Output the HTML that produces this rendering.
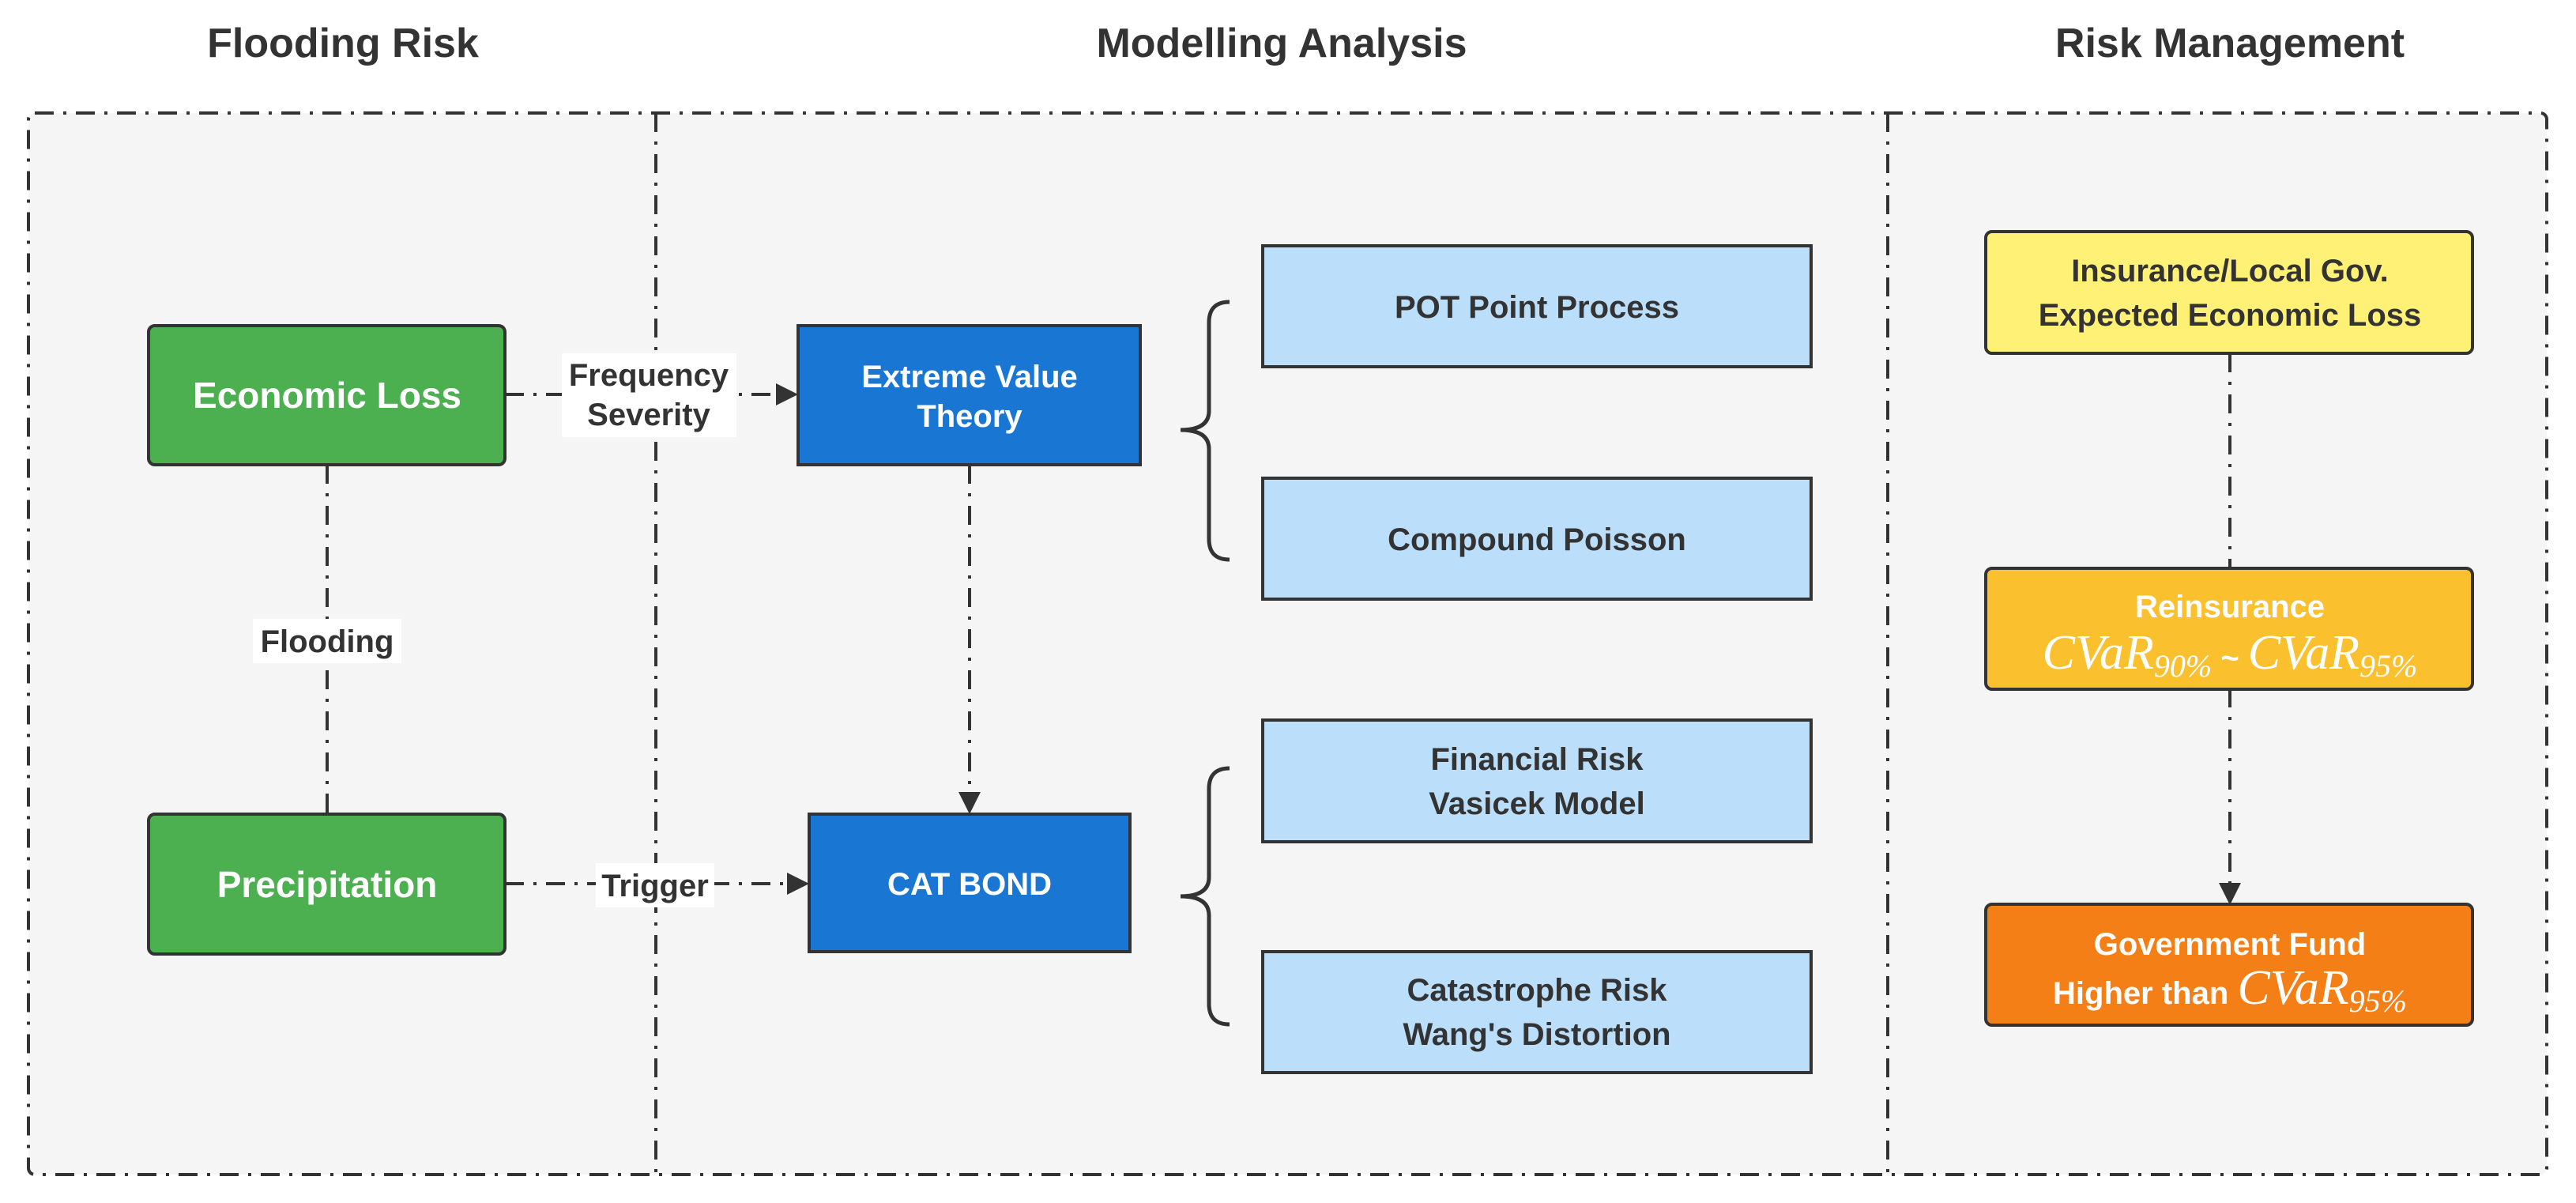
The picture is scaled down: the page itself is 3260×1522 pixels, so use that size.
<!DOCTYPE html>
<html><head><meta charset="utf-8"><style>
html,body{margin:0;padding:0;background:#fff;}
svg{display:block;}
text{font-family:"Liberation Sans",sans-serif;font-weight:bold;}
.m{font-family:"Liberation Serif",serif;font-style:italic;font-weight:normal;}
</style></head><body>
<svg width="3260" height="1522" viewBox="0 0 3260 1522" xmlns="http://www.w3.org/2000/svg">
<rect width="3260" height="1522" fill="#fff"/>
<rect x="36" y="143" width="3187" height="1343" rx="8" fill="#f5f5f5" stroke="#333" stroke-width="4" stroke-dasharray="24 12 4 12"/>
<line x1="830" y1="143" x2="830" y2="1486" stroke="#333" stroke-width="4" stroke-dasharray="24 12 4 12"/>
<line x1="2389" y1="143" x2="2389" y2="1486" stroke="#333" stroke-width="4" stroke-dasharray="24 12 4 12"/>
<g fill="#333" font-size="52" text-anchor="middle">
<text x="434" y="72">Flooding Risk</text>
<text x="1622" y="72">Modelling Analysis</text>
<text x="2822" y="72">Risk Management</text>
</g>
<g stroke="#333" stroke-width="4" stroke-dasharray="24 12 4 12" fill="none">
<line x1="639" y1="499" x2="985" y2="499"/>
<line x1="639" y1="1118" x2="998" y2="1118"/>
<line x1="414" y1="588" x2="414" y2="1030"/>
<line x1="1227" y1="588" x2="1227" y2="1005"/>
<line x1="2822" y1="447" x2="2822" y2="720"/>
<line x1="2822" y1="871" x2="2822" y2="1120"/>
</g>
<g fill="#333">
<polygon points="1010,499 982,485 982,513"/>
<polygon points="1024,1118 996,1104 996,1132"/>
<polygon points="1227,1030 1213,1002 1241,1002"/>
<polygon points="2822,1145 2808,1117 2836,1117"/>
</g>
<rect x="711" y="447" width="221" height="106" fill="#fff"/>
<text x="821" y="488" font-size="40" fill="#333" text-anchor="middle">Frequency</text>
<text x="821" y="538" font-size="40" fill="#333" text-anchor="middle">Severity</text>
<rect x="320" y="783" width="188" height="56" fill="#fff"/>
<text x="414" y="825" font-size="40" fill="#333" text-anchor="middle">Flooding</text>
<rect x="754" y="1092" width="150" height="56" fill="#fff"/>
<text x="829" y="1134" font-size="40" fill="#333" text-anchor="middle">Trigger</text>
<g stroke="#333" stroke-width="5" fill="none">
<path d="M1556,382 Q1530,382 1530,408 L1530,520 Q1530,544 1494,544 Q1530,544 1530,568 L1530,682 Q1530,708 1556,708"/>
<path d="M1556,972 Q1530,972 1530,998 L1530,1110 Q1530,1134 1494,1134 Q1530,1134 1530,1158 L1530,1270 Q1530,1296 1556,1296"/>
</g>
<rect x="188" y="412" width="451" height="176" rx="8" fill="#4caf50" stroke="#333" stroke-width="4"/>
<text x="414" y="516" font-size="46" fill="#fff" text-anchor="middle">Economic Loss</text>
<rect x="188" y="1030" width="451" height="177" rx="8" fill="#4caf50" stroke="#333" stroke-width="4"/>
<text x="414" y="1135" font-size="46" fill="#fff" text-anchor="middle">Precipitation</text>
<rect x="1010" y="412" width="433" height="176" fill="#1976d2" stroke="#333" stroke-width="4"/>
<text x="1227" y="490" font-size="40" fill="#fff" text-anchor="middle">Extreme Value</text>
<text x="1227" y="540" font-size="40" fill="#fff" text-anchor="middle">Theory</text>
<rect x="1024" y="1030" width="406" height="174" fill="#1976d2" stroke="#333" stroke-width="4"/>
<text x="1227" y="1132" font-size="40" fill="#fff" text-anchor="middle">CAT BOND</text>
<g fill="#bbdefb" stroke="#333" stroke-width="4">
<rect x="1598" y="311" width="694" height="153"/>
<rect x="1598" y="605" width="694" height="153"/>
<rect x="1598" y="911" width="694" height="154"/>
<rect x="1598" y="1204" width="694" height="153"/>
</g>
<g fill="#333" font-size="40" text-anchor="middle">
<text x="1945" y="402">POT Point Process</text>
<text x="1945" y="696">Compound Poisson</text>
<text x="1945" y="974">Financial Risk</text>
<text x="1945" y="1030">Vasicek Model</text>
<text x="1945" y="1266">Catastrophe Risk</text>
<text x="1945" y="1322">Wang's Distortion</text>
</g>
<rect x="2513" y="293" width="616" height="154" rx="8" fill="#fff176" stroke="#333" stroke-width="4"/>
<text x="2822" y="356" font-size="40" fill="#333" text-anchor="middle">Insurance/Local Gov.</text>
<text x="2822" y="412" font-size="40" fill="#333" text-anchor="middle">Expected Economic Loss</text>
<rect x="2513" y="719" width="616" height="153" rx="8" fill="#fbc02d" stroke="#333" stroke-width="4"/>
<text x="2822" y="781" font-size="40" fill="#fff" text-anchor="middle">Reinsurance</text>
<text x="2822" y="846" font-size="62" fill="#fff" text-anchor="middle"><tspan class="m">CVaR</tspan><tspan class="m" font-size="40" font-style="normal" dy="10">90%</tspan><tspan dy="-10" font-size="40"> ~ </tspan><tspan class="m">CVaR</tspan><tspan class="m" font-size="40" font-style="normal" dy="10">95%</tspan></text>
<rect x="2513" y="1144" width="616" height="153" rx="8" fill="#f57f17" stroke="#333" stroke-width="4"/>
<text x="2822" y="1208" font-size="40" fill="#fff" text-anchor="middle">Government Fund</text>
<text x="2822" y="1270" font-size="40" fill="#fff" text-anchor="middle">Higher than  <tspan class="m" font-size="62">CVaR</tspan><tspan class="m" font-size="40" font-style="normal" dy="10">95%</tspan></text>
</svg>
</body></html>
